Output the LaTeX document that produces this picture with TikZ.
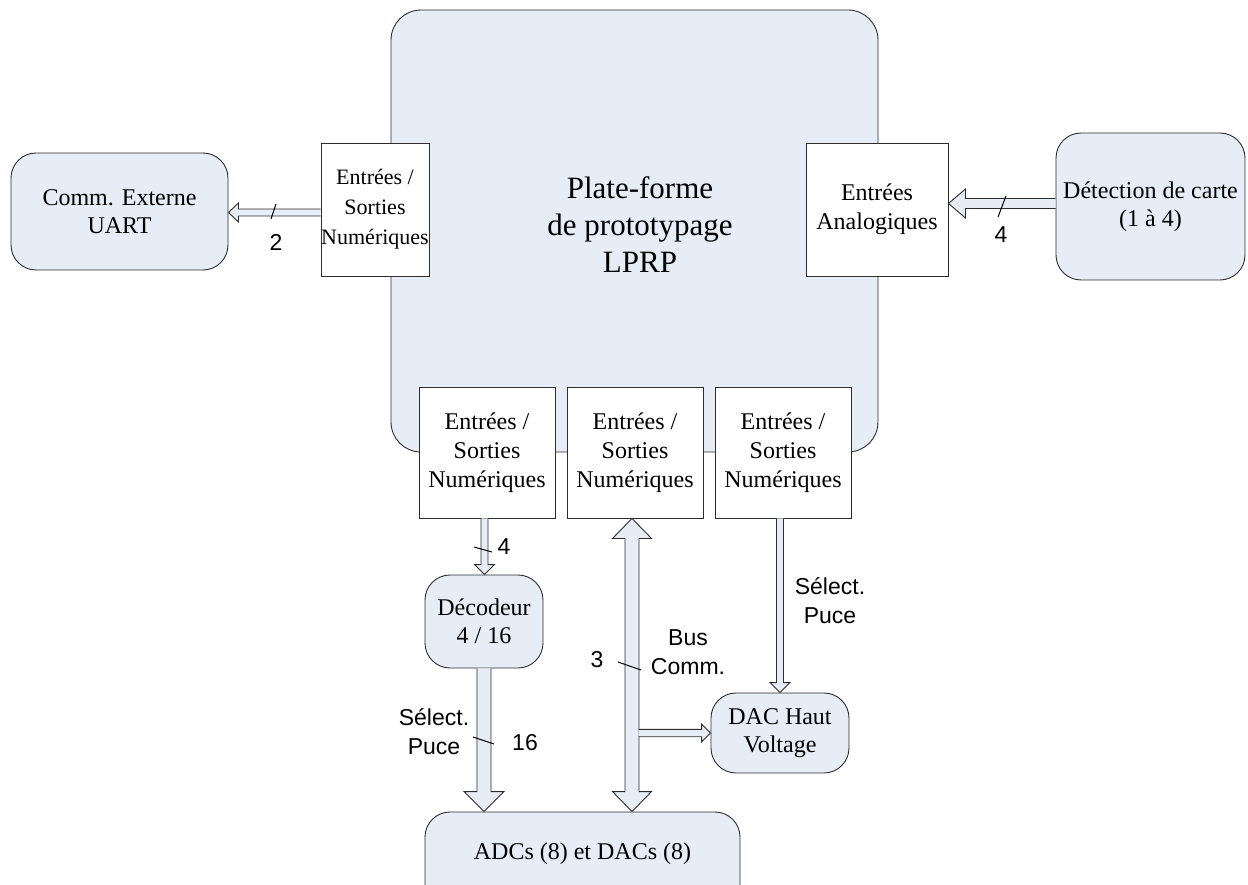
\documentclass[tikz,border=0pt]{standalone}
\usepackage{fontspec}
\setmainfont{Liberation Serif}
\newfontfamily\arialfont{Liberation Sans}
\usetikzlibrary{calc}
\definecolor{boxfill}{RGB}{230,237,247}
\definecolor{edgecol}{RGB}{45,45,45}
\newcommand{\blockarrow}[5]{%
  \coordinate (ba-h) at ($(#2)!#5!(#1)$);
  \coordinate (ba-s1) at ($(#1)!#3!90:(#2)$);
  \coordinate (ba-s2) at ($(#1)!#3!-90:(#2)$);
  \coordinate (ba-a1) at ($(ba-h)!#3!90:(#2)$);
  \coordinate (ba-a2) at ($(ba-h)!#3!-90:(#2)$);
  \coordinate (ba-b1) at ($(ba-h)!#4!90:(#2)$);
  \coordinate (ba-b2) at ($(ba-h)!#4!-90:(#2)$);
  \fill[boxfill] (ba-s1) -- (ba-a1) -- (ba-b1) -- (#2) -- (ba-b2) -- (ba-a2) -- (ba-s2) -- cycle;
  \draw[arrline] (ba-s1) -- (ba-a1) -- (ba-b1) -- (#2) -- (ba-b2) -- (ba-a2) -- (ba-s2);
}
\newcommand{\dblockarrow}[5]{%
  \coordinate (ba-h1) at ($(#1)!#5!(#2)$);
  \coordinate (ba-h2) at ($(#2)!#5!(#1)$);
  \filldraw[arrline,fill=boxfill] (#1) -- ($(ba-h1)!#4!90:(#2)$) -- ($(ba-h1)!#3!90:(#2)$)
    -- ($(ba-h2)!#3!90:(#2)$) -- ($(ba-h2)!#4!90:(#2)$) -- (#2)
    -- ($(ba-h2)!#4!-90:(#2)$) -- ($(ba-h2)!#3!-90:(#2)$)
    -- ($(ba-h1)!#3!-90:(#2)$) -- ($(ba-h1)!#4!-90:(#2)$) -- cycle;
}
\tikzset{
  arrline/.style={draw=edgecol, line width=0.9pt, line join=miter},
  sqbox/.style={draw=edgecol, fill=white, line width=0.9pt, inner sep=0pt, align=center,
    font=\fontsize{24}{29}\selectfont},
  rbox/.style={draw=edgecol, fill=boxfill, line width=0.9pt, inner sep=0pt, align=center,
    rounded corners=25pt, font=\fontsize{24}{28}\selectfont},
  lab/.style={inner sep=0pt, align=center, font=\arialfont\fontsize{23}{29}\selectfont},
  tick/.style={draw=black, line width=1pt},
}
\begin{document}
\begin{tikzpicture}[x=1pt,y=-1pt]
\clip (0,0) rectangle (1248,885);
\fill[white] (0,0) rectangle (1248,885);

% main platform
\node[rbox, rounded corners=30pt, minimum width=487pt, minimum height=442pt] (main) at (634.5,231) {};
\node[inner sep=0pt, align=center, font=\fontsize{31}{37}\selectfont] (title) at (640,225)
  {Plate-forme\\de prototypage\\LPRP};

% I/O boxes
\node[sqbox, minimum width=108pt, minimum height=133pt, font=\fontsize{22}{30}\selectfont] (io0) at (375,209.5)
  {Entrées /\\Sorties\\Numériques};
\node[sqbox, minimum width=142pt, minimum height=133pt] (ana) at (877,209.5)
  {Entrées\\Analogiques};
\node[sqbox, minimum width=136pt, minimum height=131pt] (io1) at (487,452.5)
  {Entrées /\\Sorties\\Numériques};
\node[sqbox, minimum width=136pt, minimum height=131pt] (io2) at (635,452.5)
  {Entrées /\\Sorties\\Numériques};
\node[sqbox, minimum width=136pt, minimum height=131pt] (io3) at (783,452.5)
  {Entrées /\\Sorties\\Numériques};

% external boxes
\node[rbox, minimum width=217pt, minimum height=117pt] (uart) at (119.5,211.5)
  {Comm. Externe\\UART};
\node[rbox, minimum width=189pt, minimum height=147pt] (det) at (1150.5,206.5)
  {Détection de carte\\(1 à 4)};
\node[rbox, minimum width=118pt, minimum height=93pt] (dec) at (484,621.5)
  {Décodeur\\4 / 16};
\node[rbox, minimum width=138pt, minimum height=80pt] (dac) at (780,733)
  {DAC Haut\\Voltage};
\node[rbox, minimum width=315pt, minimum height=200pt] (adc) at (582.5,912) {};
\node[inner sep=0pt, font=\fontsize{24}{28}\selectfont] (adctext) at (582.5,853.5)
  {ADCs (8) et DACs (8)};

% arrow end points
\coordinate (u1) at ([yshift=-3pt]io0.west);
\coordinate (u2) at (u1 -| uart.east);
\coordinate (d1) at ([yshift=3pt]det.west);
\coordinate (d2) at (d1 -| ana.east);
\coordinate (c1) at ([xshift=-2.5pt]io1.south);
\coordinate (c2) at (c1 |- dec.north);
\coordinate (s1) at (dec.south);
\coordinate (s2) at (s1 |- adc.north);
\coordinate (b1) at ([xshift=-3pt]io2.south);
\coordinate (b2) at (b1 |- adc.north);
\coordinate (r1) at ([xshift=6.5pt]b1 |- dac.west);
\coordinate (r2) at (dac.west);
\coordinate (v1) at (io3.south -| dac.north);
\coordinate (v2) at (dac.north);

\blockarrow{u1}{u2}{3.5pt}{9.5pt}{10pt}
\blockarrow{d1}{d2}{5pt}{14.5pt}{17pt}
\blockarrow{c1}{c2}{3.5pt}{10pt}{10pt}
\blockarrow{s1}{s2}{7pt}{20pt}{20pt}
\dblockarrow{b1}{b2}{7pt}{19.5pt}{20pt}
\blockarrow{r1}{r2}{3.7pt}{9pt}{9pt}
\blockarrow{v1}{v2}{3.5pt}{10pt}{10pt}

% bus width ticks and labels
\draw[tick] (271,219) -- (276,204);
\node[lab] (l2) at (276,242) {2};
\draw[tick] (998,217) -- (1006,196);
\node[lab] (l4a) at (1001,235) {4};
\draw[tick] (474,547) -- (492,552);
\node[lab] (l4b) at (504,547) {4};
\draw[tick] (473,737) -- (494,744);
\node[lab] (lsel1) at (434,732) {Sélect.\\Puce};
\node[lab] (l16) at (525,743) {16};
\draw[tick] (618,662) -- (641,670);
\node[lab] (l3) at (597,660) {3};
\node[lab] (lbus) at (688,652) {Bus\\Comm.};
\node[lab] (lsel2) at (830,601) {Sélect.\\Puce};
\end{tikzpicture}
\end{document}
